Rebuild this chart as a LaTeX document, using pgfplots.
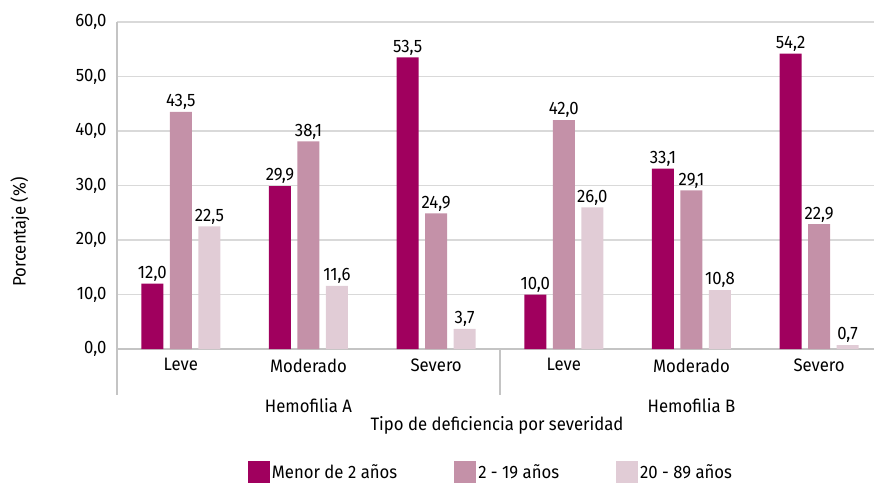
\documentclass[border=0pt]{standalone}
\usepackage{pgfplots}
\pgfplotsset{compat=1.18}
\usepackage{fontspec}
\setmainfont{Fira Sans}[FakeStretch=0.93]
\definecolor{c1}{RGB}{160,0,94}
\definecolor{c2}{RGB}{196,145,168}
\definecolor{c3}{RGB}{225,204,214}
\definecolor{gridc}{RGB}{217,217,217}
\definecolor{axc}{RGB}{196,196,196}
\begin{document}
\begin{tikzpicture}[font=\fontsize{18bp}{21bp}\selectfont]
\begin{axis}[
  at={(0,0)}, anchor=south west,
  scale only axis, width=757bp, height=327bp,
  xmin=-0.5, xmax=5.43, ymin=0, ymax=60,
  ybar=6.5bp, bar width=22bp,
  axis lines*=left,
  axis line style={axc, line width=1.2bp},
  ymajorgrids, grid style={gridc, line width=1.2bp},
  ytick={0,10,...,60},
  xtick={0,...,5},
  xticklabels={Leve,Moderado,Severo,Leve,Moderado,Severo},
  major tick length=0pt,
  tick style={draw=none},
  tick label style={font=\fontsize{18bp}{21bp}\selectfont},
  xticklabel style={yshift=-6bp},
  yticklabel style={xshift=-7bp},
  /pgf/number format/.cd, fixed, fixed zerofill, precision=1, use comma, assume math mode=true,
  /pgfplots/.cd,
  nodes near coords,
  nodes near coords style={font=\fontsize{18bp}{21bp}\selectfont, text=black, inner sep=2bp},
  clip=false,
  legend columns=3,
  legend style={draw=none, at={(0.494,-0.376)}, anchor=center,
    /tikz/every even column/.append style={column sep=55bp},
    font=\fontsize{18bp}{21bp}\selectfont},
  legend image code/.code={\fill[#1] (0bp,-11bp) rectangle (22bp,11bp);},
]
\addplot[fill=c1, draw=none] coordinates {(0,12.0) (1,29.9) (2,53.5) (3,10.0) (4,33.1) (5,54.2)};
\addplot[fill=c2, draw=none] coordinates {(0,43.5) (1,38.1) (2,24.9) (3,42.0) (4,29.1) (5,22.9)};
\addplot[fill=c3, draw=none] coordinates {(0,22.5) (1,11.6) (2,3.7) (3,26.0) (4,10.8) (5,0.7)};
\legend{Menor de 2 años, 2 - 19 años, 20 - 89 años}
\draw[axc, line width=1.2bp] (axis cs:-0.5,0) -- ++(0pt,-46bp);
\draw[axc, line width=1.2bp] (axis cs:2.5,0) -- ++(0pt,-46bp);
\node at (axis cs:1,0) [yshift=-57bp] {Hemofilia A};
\node at (axis cs:4,0) [yshift=-57bp] {Hemofilia B};
\end{axis}
\node at (380bp,-76bp) {Tipo de deficiencia por severidad};
\node[rotate=90] at (-97bp,117bp) {Porcentaje (\%)};
\pgfresetboundingbox
\path[use as bounding box] (-117bp,-135bp) rectangle (757bp,349bp);
\end{tikzpicture}
\end{document}
